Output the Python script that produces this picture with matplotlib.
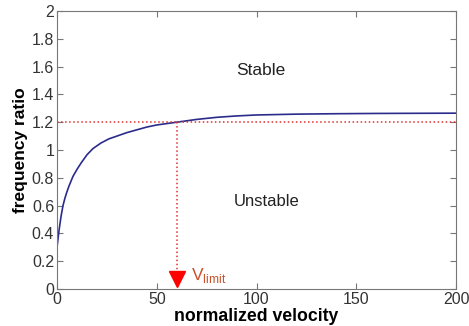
import matplotlib.pyplot as plt

plt.rcParams['font.family'] = ['Liberation Sans', 'DejaVu Sans']
plt.rcParams['mathtext.fontset'] = 'custom'
plt.rcParams['mathtext.rm'] = 'Liberation Sans'

# Valores
velocity = [0, 0.5, 1, 2, 3, 4, 5, 6, 8, 10, 12, 15, 18, 22, 26, 30, 35, 40, 45,
            50, 55, 60, 70, 80, 90, 100, 120, 140, 160, 180, 200]
freq_ratio = [0.30, 0.36, 0.42, 0.52, 0.60, 0.655, 0.70, 0.74, 0.81, 0.86, 0.905,
              0.965, 1.01, 1.05, 1.08, 1.10, 1.125, 1.145, 1.165, 1.18, 1.19, 1.20,
              1.22, 1.235, 1.245, 1.252, 1.258, 1.261, 1.263, 1.264, 1.265]
ratio_limit = 1.2
v_limit = 60

fig = plt.figure(figsize=(4.69, 3.26), dpi=100)
ax = fig.add_axes([57 / 469, 37 / 326, 399 / 469, 278 / 326])

ax.plot(velocity, freq_ratio, color='#2b2b8c', lw=1.2)
ax.plot([0, 200], [ratio_limit, ratio_limit], color='#e03030', ls=':', lw=1.1)
ax.plot([v_limit, v_limit], [ratio_limit, 0.13], color='#e03030', ls=':', lw=1.1)
ax.plot([v_limit], [0.075], marker='v', color='#ff0000', markersize=11, ls='none')

ax.text(67, 0.1, r'V$_{\mathrm{limit}}$', color='#c8502a', fontsize=12.5, va='center')
ax.text(102, 1.57, 'Stable', fontsize=12.5, ha='center', va='center', color='#222222')
ax.text(105, 0.63, 'Unstable', fontsize=12, ha='center', va='center', color='#222222')

ax.set_xlim(0, 200)
ax.set_ylim(0, 2)
ax.set_xticks([0, 50, 100, 150, 200])
ax.set_yticks([0, 0.2, 0.4, 0.6, 0.8, 1, 1.2, 1.4, 1.6, 1.8, 2])
ax.set_yticklabels(['0', '0.2', '0.4', '0.6', '0.8', '1', '1.2', '1.4', '1.6', '1.8', '2'])
ax.tick_params(direction='in', top=True, right=True, length=4, color='#777777',
               labelsize=11.5, labelcolor='#333333', pad=2)
for s in ax.spines.values():
    s.set_color('#777777')

ax.set_xlabel('normalized velocity', fontsize=12.7, fontweight='bold', labelpad=1)
ax.set_ylabel('frequency ratio', fontsize=12.5, fontweight='bold', labelpad=3)

fig.savefig('out.png', dpi=100)
